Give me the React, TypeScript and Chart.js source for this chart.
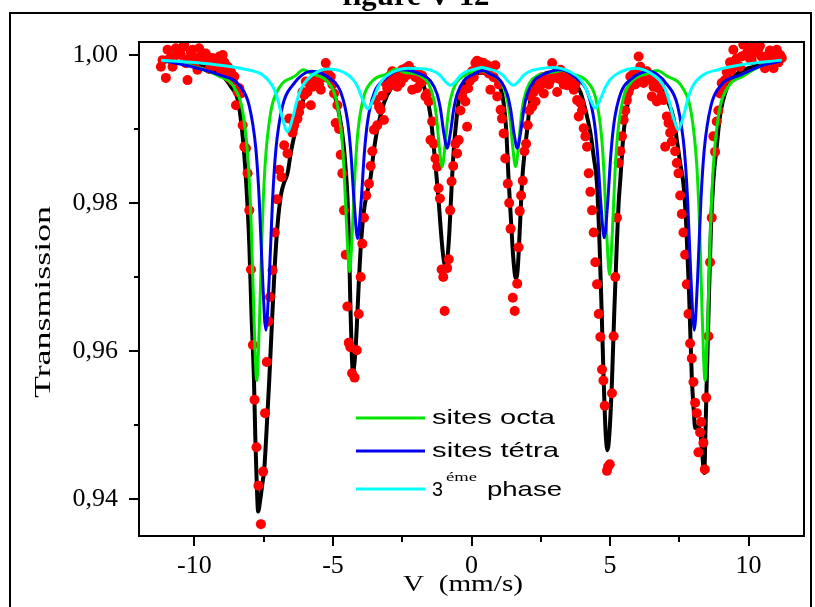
import { useEffect, useRef } from 'react';
import { Chart, registerables } from 'chart.js';

Chart.register(...registerables);

// ---- axis ticks ----
const xTickValues = [-10, -7.5, -5, -2.5, 0, 2.5, 5, 7.5, 10];
const xLabelValues = [-10, -5, 0, 5, 10];
const yTickValues = [0.94, 0.95, 0.96, 0.97, 0.98, 0.99, 1.0];
const yLabelValues = [0.94, 0.96, 0.98, 1.0];

// ---- legend labels ----
const octaLabel = 'sites octa';
const tetraLabel = 'sites tétra';
const phaseLabelNum = '3';
const phaseLabelSup = 'éme';
const phaseLabelRest = 'phase';

// ---- measured spectrum [velocity mm/s, transmission] ----
const measured: [number, number][] = [
  [-11.21, 0.9984], [-11.15, 0.9993], [-11.03, 0.9969], [-10.97, 1.0007], [-10.9, 0.9995], [-10.79, 0.9984],
  [-10.73, 0.9998], [-10.67, 1.0009], [-10.55, 1.0002], [-10.49, 1.0], [-10.43, 1.001], [-10.37, 1.0014],
  [-10.31, 0.9989], [-10.25, 0.9966], [-10.19, 0.9995], [-10.13, 1.0004], [-10.07, 1.0007], [-10.01, 0.999],
  [-9.95, 0.9996], [-9.89, 0.998], [-9.83, 1.0009], [-9.77, 0.9998], [-9.71, 1.0002], [-9.65, 0.9993],
  [-9.59, 1.0002], [-9.53, 0.9995], [-9.47, 0.9981], [-9.41, 0.999], [-9.35, 0.9996], [-9.28, 0.9991],
  [-9.22, 0.9985], [-9.16, 0.9987], [-9.1, 0.9998], [-9.05, 0.998], [-8.98, 1.0], [-8.92, 0.999],
  [-8.86, 0.9978], [-8.8, 0.9984], [-8.74, 0.9969], [-8.68, 0.9977], [-8.62, 0.9965], [-8.56, 0.9971],
  [-8.5, 0.9932], [-8.44, 0.995], [-8.38, 0.9955], [-8.32, 0.9948], [-8.26, 0.9905], [-8.2, 0.9876],
  [-8.14, 0.9874], [-8.08, 0.984], [-8.02, 0.979], [-7.96, 0.971], [-7.89, 0.9608], [-7.83, 0.9534],
  [-7.76, 0.947], [-7.69, 0.9418], [-7.6, 0.9366], [-7.52, 0.9437], [-7.45, 0.9516], [-7.39, 0.9585],
  [-7.33, 0.964], [-7.27, 0.9673], [-7.18, 0.9709], [-7.1, 0.976], [-7.02, 0.9805], [-6.94, 0.9845],
  [-6.86, 0.9835], [-6.76, 0.9878], [-6.64, 0.9867], [-6.58, 0.9914], [-6.46, 0.9895], [-6.4, 0.9905],
  [-6.28, 0.9914], [-6.22, 0.9923], [-6.16, 0.9932], [-6.1, 0.995], [-6.04, 0.9946], [-5.98, 0.9964],
  [-5.92, 0.995], [-5.86, 0.9962], [-5.8, 0.9932], [-5.74, 0.9957], [-5.68, 0.9968], [-5.62, 0.9959],
  [-5.56, 0.997], [-5.5, 0.996], [-5.44, 0.9953], [-5.38, 0.9975], [-5.32, 0.997], [-5.26, 0.9989],
  [-5.2, 0.9977], [-5.14, 0.9968], [-5.08, 0.9971], [-5.02, 0.996], [-4.96, 0.9948], [-4.9, 0.9908],
  [-4.84, 0.9932], [-4.78, 0.99], [-4.72, 0.9865], [-4.66, 0.984], [-4.6, 0.979], [-4.54, 0.973],
  [-4.48, 0.966], [-4.43, 0.9611], [-4.37, 0.9605], [-4.31, 0.957], [-4.22, 0.9564], [-4.14, 0.9601],
  [-4.07, 0.965], [-4.0, 0.97], [-3.94, 0.9745], [-3.88, 0.978], [-3.8, 0.981], [-3.7, 0.9826],
  [-3.64, 0.985], [-3.58, 0.987], [-3.52, 0.9899], [-3.46, 0.9939], [-3.4, 0.9905], [-3.34, 0.993],
  [-3.28, 0.9926], [-3.22, 0.9945], [-3.16, 0.9912], [-3.1, 0.9962], [-3.04, 0.9955], [-2.98, 0.9971],
  [-2.92, 0.996], [-2.86, 0.9978], [-2.8, 0.9966], [-2.74, 0.9975], [-2.68, 0.9957], [-2.62, 0.9975],
  [-2.56, 0.9962], [-2.5, 0.998], [-2.44, 0.9969], [-2.38, 0.9982], [-2.32, 0.9973], [-2.26, 0.9985],
  [-2.2, 0.998], [-2.14, 0.9953], [-2.08, 0.9978], [-2.02, 0.997], [-1.96, 0.9955], [-1.9, 0.9975],
  [-1.84, 0.9962], [-1.78, 0.9972], [-1.72, 0.9966], [-1.66, 0.9944], [-1.6, 0.9948], [-1.54, 0.9937],
  [-1.48, 0.9885], [-1.42, 0.991], [-1.36, 0.988], [-1.3, 0.986], [-1.24, 0.9849], [-1.19, 0.982],
  [-1.14, 0.9806], [-1.08, 0.971], [-1.02, 0.97], [-0.97, 0.9654], [-0.88, 0.9712], [-0.82, 0.9724],
  [-0.77, 0.979], [-0.72, 0.9829], [-0.66, 0.985], [-0.58, 0.988], [-0.52, 0.9867], [-0.46, 0.9885],
  [-0.4, 0.9925], [-0.34, 0.9944], [-0.28, 0.9953], [-0.22, 0.9937], [-0.16, 0.9903], [-0.12, 0.9955],
  [-0.06, 0.9965], [0.02, 0.9978], [0.08, 0.997], [0.14, 0.9989], [0.2, 0.9992], [0.26, 0.9984],
  [0.32, 0.999], [0.38, 0.998], [0.44, 0.9989], [0.5, 0.998], [0.57, 0.9986], [0.62, 0.9975],
  [0.68, 0.9953], [0.75, 0.9984], [0.8, 0.997], [0.86, 0.9986], [0.93, 0.9944], [0.99, 0.996],
  [1.05, 0.9926], [1.1, 0.9914], [1.16, 0.9894], [1.22, 0.986], [1.31, 0.9826], [1.36, 0.98],
  [1.41, 0.9765], [1.49, 0.9672], [1.56, 0.9654], [1.65, 0.9691], [1.7, 0.974], [1.74, 0.9789],
  [1.79, 0.981], [1.85, 0.983], [1.91, 0.987], [1.97, 0.988], [2.03, 0.9905], [2.09, 0.9925],
  [2.13, 0.9944], [2.19, 0.993], [2.25, 0.995], [2.31, 0.9937], [2.37, 0.9955], [2.43, 0.9965],
  [2.49, 0.9959], [2.55, 0.997], [2.61, 0.9948], [2.67, 0.9962], [2.73, 0.9972], [2.79, 0.996],
  [2.85, 0.9966], [2.91, 0.9989], [2.97, 0.997], [3.03, 0.9975], [3.09, 0.995], [3.15, 0.9968],
  [3.21, 0.998], [3.27, 0.9966], [3.33, 0.996], [3.39, 0.9972], [3.45, 0.9959], [3.51, 0.997],
  [3.57, 0.9964], [3.63, 0.9958], [3.69, 0.9953], [3.75, 0.996], [3.81, 0.9939], [3.87, 0.9917],
  [3.93, 0.9935], [3.99, 0.9925], [4.05, 0.9901], [4.11, 0.989], [4.17, 0.9876], [4.23, 0.984],
  [4.29, 0.9815], [4.35, 0.979], [4.41, 0.976], [4.47, 0.972], [4.53, 0.969], [4.59, 0.965],
  [4.65, 0.9619], [4.71, 0.9575], [4.76, 0.956], [4.81, 0.9526], [4.89, 0.9438], [4.93, 0.9444],
  [4.99, 0.9447], [5.07, 0.9543], [5.13, 0.962], [5.19, 0.97], [5.25, 0.978], [5.31, 0.9854],
  [5.37, 0.987], [5.43, 0.989], [5.49, 0.9912], [5.55, 0.9925], [5.61, 0.9939], [5.67, 0.995],
  [5.73, 0.9971], [5.79, 0.996], [5.85, 0.9975], [5.91, 0.996], [5.97, 0.997], [6.03, 0.9998],
  [6.09, 0.9984], [6.15, 0.9975], [6.21, 0.9962], [6.27, 0.9972], [6.33, 0.9978], [6.39, 0.9968],
  [6.45, 0.9966], [6.51, 0.9944], [6.57, 0.9957], [6.63, 0.9962], [6.69, 0.9937], [6.75, 0.9955],
  [6.81, 0.996], [6.87, 0.9945], [6.93, 0.9939], [6.99, 0.9876], [7.05, 0.9917], [7.11, 0.9908],
  [7.17, 0.9895], [7.23, 0.9883], [7.29, 0.99], [7.35, 0.987], [7.41, 0.9854], [7.47, 0.984],
  [7.53, 0.981], [7.59, 0.9785], [7.65, 0.976], [7.71, 0.973], [7.77, 0.969], [7.83, 0.965],
  [7.89, 0.961], [7.95, 0.959], [8.01, 0.9558], [8.07, 0.953], [8.13, 0.9516], [8.19, 0.9463],
  [8.25, 0.949], [8.29, 0.9504], [8.37, 0.9476], [8.42, 0.944], [8.47, 0.9537], [8.55, 0.962],
  [8.61, 0.972], [8.67, 0.978], [8.73, 0.989], [8.79, 0.9869], [8.85, 0.991], [8.91, 0.9925],
  [8.97, 0.9948], [9.03, 0.9962], [9.09, 0.9955], [9.15, 0.9966], [9.21, 0.9977], [9.27, 0.997],
  [9.33, 0.999], [9.39, 0.998], [9.45, 1.0007], [9.51, 0.9992], [9.57, 0.9995], [9.63, 0.9985],
  [9.69, 0.9984], [9.75, 0.9998], [9.81, 1.0014], [9.87, 1.0], [9.93, 1.0002], [9.99, 1.0009],
  [10.05, 0.9995], [10.11, 0.9993], [10.17, 1.0014], [10.23, 1.0005], [10.29, 1.0003], [10.35, 1.0008],
  [10.41, 1.0012], [10.47, 0.9998], [10.54, 0.9989], [10.59, 0.9982], [10.65, 0.9995], [10.71, 1.0],
  [10.77, 1.0006], [10.84, 0.9991], [10.9, 0.9982], [10.96, 0.9995], [11.02, 1.0007], [11.08, 0.999],
  [11.14, 1.0], [11.2, 0.9996],
];

// ---- total fit (black) ----
const totalFit: [number, number][] = [
  [-11.2, 0.9992], [-10.5, 0.999], [-10.0, 0.9988], [-9.5, 0.9984], [-9.1, 0.9976], [-8.85, 0.9966],
  [-8.68, 0.9957], [-8.44, 0.994], [-8.3, 0.9905], [-8.2, 0.9865], [-8.12, 0.982], [-8.02, 0.9745],
  [-7.94, 0.965], [-7.85, 0.956], [-7.8, 0.948], [-7.75, 0.942], [-7.7, 0.9383], [-7.62, 0.94],
  [-7.55, 0.942], [-7.48, 0.9440], [-7.4, 0.949], [-7.3, 0.956], [-7.2, 0.964], [-7.1, 0.9715],
  [-7.0, 0.977], [-6.88, 0.981], [-6.76, 0.9828], [-6.64, 0.984], [-6.52, 0.9868], [-6.4, 0.989],
  [-6.28, 0.991], [-6.05, 0.9942], [-5.85, 0.996], [-5.6, 0.9972], [-5.35, 0.9976], [-5.2, 0.9972],
  [-5.05, 0.996], [-4.9, 0.994], [-4.75, 0.9915], [-4.62, 0.988], [-4.54, 0.9845], [-4.48, 0.981],
  [-4.42, 0.9745], [-4.37, 0.966], [-4.32, 0.9595], [-4.28, 0.9572], [-4.22, 0.9585], [-4.15, 0.9625],
  [-4.07, 0.969], [-3.98, 0.975], [-3.88, 0.979], [-3.76, 0.9815], [-3.64, 0.9835], [-3.52, 0.9872],
  [-3.4, 0.9899], [-3.16, 0.9935], [-2.9, 0.9955], [-2.68, 0.9963], [-2.4, 0.9972], [-2.09, 0.9976],
  [-1.84, 0.997], [-1.66, 0.995], [-1.48, 0.9918], [-1.36, 0.9875], [-1.26, 0.9835], [-1.18, 0.98],
  [-1.1, 0.976], [-1.02, 0.9728], [-0.95, 0.9716], [-0.88, 0.9722], [-0.8, 0.976], [-0.72, 0.982],
  [-0.64, 0.9872], [-0.55, 0.991], [-0.46, 0.9938], [-0.3, 0.9958], [-0.16, 0.9966], [0.05, 0.9973],
  [0.3, 0.9976], [0.55, 0.9975], [0.8, 0.9968], [1.05, 0.9955], [1.16, 0.9935], [1.25, 0.99],
  [1.34, 0.9831], [1.42, 0.978], [1.5, 0.973], [1.57, 0.9702], [1.61, 0.9698], [1.67, 0.9712],
  [1.75, 0.977], [1.83, 0.9831], [1.92, 0.987], [2.01, 0.9899], [2.13, 0.994], [2.37, 0.9964],
  [2.7, 0.9974], [3.0, 0.9976], [3.3, 0.9975], [3.6, 0.9966], [3.93, 0.995], [4.15, 0.992],
  [4.29, 0.9895], [4.42, 0.986], [4.53, 0.9825], [4.62, 0.9745], [4.7, 0.965], [4.77, 0.9561],
  [4.84, 0.949], [4.91, 0.9466], [4.98, 0.949], [5.07, 0.956], [5.15, 0.965], [5.24, 0.974],
  [5.31, 0.98], [5.37, 0.9831], [5.49, 0.9895], [5.67, 0.994], [5.97, 0.9964], [6.3, 0.9972],
  [6.57, 0.9972], [6.8, 0.996], [7.05, 0.994], [7.29, 0.9915], [7.41, 0.9885], [7.53, 0.9854],
  [7.65, 0.9825], [7.75, 0.977], [7.85, 0.968], [7.95, 0.9565], [8.03, 0.9515], [8.07, 0.9496],
  [8.15, 0.9498], [8.25, 0.9493], [8.33, 0.946], [8.4, 0.9435], [8.45, 0.95], [8.49, 0.956],
  [8.56, 0.966], [8.64, 0.9765], [8.73, 0.9831], [8.85, 0.9876], [8.97, 0.9918], [9.21, 0.9955],
  [9.57, 0.9974], [10.17, 0.9984], [10.7, 0.9989], [11.2, 0.9992],
];

// ---- octahedral sites (green) ----
const octaFit: [number, number][] = [
  [-11.2, 0.9993], [-10.2, 0.9986], [-9.15, 0.9972], [-8.55, 0.9955], [-8.25, 0.9922], [-8.05, 0.9851],
  [-7.95, 0.977], [-7.85, 0.9644], [-7.75, 0.956], [-7.65, 0.9644], [-7.55, 0.977], [-7.45, 0.9851],
  [-7.25, 0.9922], [-6.95, 0.9955], [-6.35, 0.9972], [-6.07, 0.998], [-5.8, 0.9975], [-5.2, 0.9964],
  [-4.9, 0.9942], [-4.7, 0.9896], [-4.6, 0.9844], [-4.5, 0.9762], [-4.4, 0.9707], [-4.3, 0.9762],
  [-4.2, 0.9844], [-4.1, 0.9896], [-3.9, 0.9942], [-3.6, 0.9964], [-3.0, 0.9975], [-2.73, 0.9981],
  [-2.46, 0.9977], [-1.86, 0.9972], [-1.56, 0.9962], [-1.36, 0.994], [-1.26, 0.9915], [-1.16, 0.9875],
  [-1.06, 0.9849], [-0.96, 0.9875], [-0.86, 0.9915], [-0.76, 0.994], [-0.56, 0.9962], [-0.26, 0.9972],
  [0.27, 0.9979], [0.79, 0.9972], [1.09, 0.9962], [1.29, 0.994], [1.39, 0.9915], [1.49, 0.9875],
  [1.59, 0.9849], [1.69, 0.9875], [1.79, 0.9915], [1.89, 0.994], [2.09, 0.9962], [2.39, 0.9972],
  [2.99, 0.9977], [3.28, 0.9979], [3.58, 0.9975], [4.18, 0.9964], [4.48, 0.9942], [4.68, 0.9895],
  [4.78, 0.9842], [4.88, 0.9758], [4.98, 0.9703], [5.08, 0.9758], [5.18, 0.9842], [5.28, 0.9895],
  [5.48, 0.9942], [5.78, 0.9964], [6.38, 0.9975], [6.7, 0.9979], [7.03, 0.9972], [7.63, 0.9955],
  [7.93, 0.9922], [8.13, 0.9851], [8.23, 0.977], [8.33, 0.9644], [8.43, 0.956], [8.53, 0.9644],
  [8.63, 0.977], [8.73, 0.9851], [8.93, 0.9922], [9.23, 0.9955], [9.83, 0.9972], [10.5, 0.9986],
  [11.2, 0.9992],
];

// ---- tetrahedral sites (blue) ----
const tetraFit: [number, number][] = [
  [-11.2, 0.9993], [-10.2, 0.9985], [-9.1, 0.9973], [-8.38, 0.9959], [-8.02, 0.9931], [-7.78, 0.9872],
  [-7.66, 0.9804], [-7.54, 0.9698], [-7.42, 0.9628], [-7.3, 0.9698], [-7.18, 0.9804], [-7.06, 0.9872],
  [-6.82, 0.9931], [-6.46, 0.9959], [-5.77, 0.9978], [-5.07, 0.9967], [-4.71, 0.9949], [-4.47, 0.991],
  [-4.35, 0.9866], [-4.23, 0.9798], [-4.11, 0.9752], [-3.99, 0.9798], [-3.87, 0.9866], [-3.75, 0.991],
  [-3.51, 0.9949], [-3.15, 0.9967], [-2.5, 0.998], [-1.84, 0.9974], [-1.48, 0.9965], [-1.24, 0.9947],
  [-1.12, 0.9927], [-1.0, 0.9895], [-0.88, 0.9874], [-0.76, 0.9895], [-0.64, 0.9927], [-0.52, 0.9947],
  [-0.28, 0.9965], [0.08, 0.9974], [0.385, 0.9979], [0.69, 0.9974], [1.05, 0.9965], [1.29, 0.9947],
  [1.41, 0.9927], [1.53, 0.9895], [1.65, 0.9874], [1.77, 0.9895], [1.89, 0.9927], [2.01, 0.9947],
  [2.25, 0.9965], [2.61, 0.9974], [3.2, 0.998], [3.83, 0.9967], [4.19, 0.9949], [4.43, 0.991],
  [4.55, 0.9866], [4.67, 0.9798], [4.79, 0.9753], [4.91, 0.9798], [5.03, 0.9866], [5.15, 0.991],
  [5.39, 0.9949], [5.75, 0.9967], [6.4, 0.9978], [7.08, 0.9959], [7.44, 0.9931], [7.68, 0.9872],
  [7.8, 0.9804], [7.92, 0.9698], [8.04, 0.9628], [8.16, 0.9698], [8.28, 0.9804], [8.4, 0.9872],
  [8.64, 0.9931], [9.0, 0.9959], [9.72, 0.9973], [10.5, 0.9986], [11.2, 0.9992],
];

// ---- third phase (cyan) ----
const phase3Fit: [number, number][] = [
  [-11.2, 0.9993], [-9.5, 0.9988], [-8.08, 0.998], [-7.54, 0.9973], [-7.18, 0.9958], [-7.0, 0.9941],
  [-6.82, 0.9914], [-6.64, 0.9896], [-6.46, 0.9914], [-6.28, 0.9941], [-6.1, 0.9958], [-5.74, 0.9973],
  [-5.19, 0.9981], [-4.64, 0.9977], [-4.28, 0.9967], [-4.1, 0.9956], [-3.92, 0.9939], [-3.74, 0.9927],
  [-3.56, 0.9939], [-3.38, 0.9956], [-3.2, 0.9967], [-2.84, 0.9977], [-2.3, 0.9982], [-1.66, 0.9981],
  [-1.3, 0.9977], [-1.12, 0.9972], [-0.94, 0.9964], [-0.76, 0.9959], [-0.58, 0.9964], [-0.4, 0.9972],
  [-0.22, 0.9977], [0.14, 0.9981], [0.375, 0.9983], [0.61, 0.9981], [0.97, 0.9977], [1.15, 0.9972],
  [1.33, 0.9964], [1.51, 0.9959], [1.69, 0.9964], [1.87, 0.9972], [2.05, 0.9977], [2.41, 0.9981],
  [2.95, 0.9983], [3.57, 0.9977], [3.93, 0.9967], [4.11, 0.9956], [4.29, 0.994], [4.47, 0.9928],
  [4.65, 0.994], [4.83, 0.9956], [5.01, 0.9967], [5.37, 0.9977], [5.91, 0.9982], [6.56, 0.9973],
  [6.92, 0.9959], [7.1, 0.9942], [7.28, 0.9916], [7.46, 0.9899], [7.64, 0.9916], [7.82, 0.9942],
  [8.0, 0.9959], [8.36, 0.9973], [8.9, 0.998], [9.8, 0.9987], [11.2, 0.9993],
];

const SERIF = "'Liberation Serif', 'Times New Roman', serif";
const SANS = "'Liberation Sans', Arial, sans-serif";
const GREEN = '#00e600';
const BLUE = '#0000ee';
const CYAN = '#00ffff';

function drawStretched(ctx: CanvasRenderingContext2D, text: string, x: number, y: number, font: string, width: number, align: 'left' | 'center') {
  ctx.save();
  ctx.font = font;
  const w = ctx.measureText(text).width;
  const sx = width / w;
  ctx.translate(x, y);
  ctx.scale(sx, 1);
  ctx.textAlign = 'left';
  ctx.textBaseline = 'alphabetic';
  ctx.fillText(text, align === 'center' ? -w / 2 : 0, 0);
  ctx.restore();
}

const decorPlugin = {
  id: 'decor',
  afterDraw(chart: any) {
    const { ctx, chartArea: a, scales } = chart;
    const xs = scales.x;
    const ys = scales.y;
    ctx.save();
    ctx.strokeStyle = '#000';
    ctx.fillStyle = '#000';
    ctx.lineWidth = 2;
    // plot frame
    ctx.strokeRect(a.left, a.top, a.right - a.left, a.bottom - a.top);
    // tick marks
    ctx.beginPath();
    for (const v of xTickValues) {
      const px = Math.round(xs.getPixelForValue(v));
      const len = xLabelValues.includes(v) ? 10 : 6;
      ctx.moveTo(px, a.bottom);
      ctx.lineTo(px, a.bottom + len);
    }
    for (const v of yTickValues) {
      const py = Math.round(ys.getPixelForValue(v));
      const len = yLabelValues.some((l) => Math.abs(l - v) < 1e-9) ? 10 : 5;
      ctx.moveTo(a.left, py);
      ctx.lineTo(a.left - len, py);
    }
    ctx.stroke();

    // outer frame
    ctx.beginPath();
    ctx.moveTo(10, 607);
    ctx.lineTo(10, 13);
    ctx.lineTo(811, 13);
    ctx.lineTo(811, 607);
    ctx.stroke();

    // clipped title
    drawStretched(ctx, 'figure V-12', 416, 5, `bold 30px ${SERIF}`, 147, 'center');

    // axis titles
    drawStretched(ctx, 'V  (mm/s)', 463, 591, `23px ${SERIF}`, 120, 'center');
    ctx.save();
    ctx.translate(50, 302);
    ctx.rotate(-Math.PI / 2);
    drawStretched(ctx, 'Transmission', 0, 0, `23px ${SERIF}`, 192, 'center');
    ctx.restore();

    // legend
    const legendRows: [string, number][] = [[GREEN, 418], [BLUE, 451], [CYAN, 489]];
    ctx.lineWidth = 3;
    for (const [c, y] of legendRows) {
      ctx.strokeStyle = c;
      ctx.beginPath();
      ctx.moveTo(356, y);
      ctx.lineTo(425, y);
      ctx.stroke();
    }
    ctx.fillStyle = '#000';
    drawStretched(ctx, octaLabel, 432, 424, `21px ${SANS}`, 123, 'left');
    drawStretched(ctx, tetraLabel, 432, 457, `21px ${SANS}`, 127, 'left');
    drawStretched(ctx, phaseLabelNum, 432, 496, `21px ${SANS}`, 11, 'left');
    drawStretched(ctx, phaseLabelSup, 446, 481, `13px ${SERIF}`, 31, 'left');
    drawStretched(ctx, phaseLabelRest, 487, 496, `21px ${SANS}`, 75, 'left');
    ctx.restore();
  },
};

const toXY = (arr: [number, number][]) => arr.map(([x, y]) => ({ x, y }));

export default function App() {
  const ref = useRef<HTMLCanvasElement | null>(null);
  useEffect(() => {
    const canvas = ref.current;
    if (!canvas) return;
    const lineDs = (label: string, arr: [number, number][], color: string, width: number, order: number) => ({
      label,
      data: toXY(arr),
      showLine: true,
      borderColor: color,
      backgroundColor: color,
      borderWidth: width,
      pointRadius: 0,
      cubicInterpolationMode: 'monotone',
      order,
    });
    const chart = new Chart(canvas, {
      type: 'scatter',
      data: {
        datasets: [
          lineDs('3éme phase', phase3Fit, CYAN, 3, 1),
          lineDs('sites tétra', tetraFit, BLUE, 3, 2),
          lineDs('sites octa', octaFit, GREEN, 3, 3),
          {
            label: 'mesure',
            data: toXY(measured),
            pointRadius: 5,
            pointBackgroundColor: '#ff0000',
            pointBorderWidth: 0,
            borderWidth: 0,
            order: 4,
          },
          lineDs('ajustement', totalFit, '#000000', 4, 5),
        ] as any,
      },
      options: {
        animation: false,
        responsive: false,
        layout: { padding: { left: 10, top: 42, right: 11, bottom: 11 } },
        plugins: { legend: { display: false }, tooltip: { enabled: false }, title: { display: false } },
        scales: {
          x: {
            type: 'linear',
            min: -12,
            max: 12,
            afterFit: (s: any) => { s.height = 60; },
            afterBuildTicks: (s: any) => { s.ticks = xTickValues.map((v) => ({ value: v })); },
            grid: { display: false, drawTicks: true, tickLength: 10 },
            border: { display: false },
            ticks: {
              autoSkip: false,
              maxRotation: 0,
              padding: 5,
              color: '#000',
              font: { family: SERIF, size: 26 },
              callback: (v: any) => (xLabelValues.includes(v) ? String(v) : ''),
            },
          },
          y: {
            type: 'linear',
            min: 0.935,
            max: 1.00175,
            afterFit: (s: any) => { s.width = 129; },
            afterBuildTicks: (s: any) => { s.ticks = yTickValues.map((v) => ({ value: v })); },
            grid: { display: false, drawTicks: true, tickLength: 10 },
            border: { display: false },
            ticks: {
              autoSkip: false,
              padding: 11,
              color: '#000',
              font: { family: SERIF, size: 26 },
              callback: (v: any) =>
                yLabelValues.some((l) => Math.abs(l - v) < 1e-9) ? Number(v).toFixed(2).replace('.', ',') : '',
            },
          },
        },
      } as any,
      plugins: [decorPlugin],
    });
    return () => chart.destroy();
  }, []);
  return (
    <canvas
      ref={ref}
      width={815}
      height={607}
      style={{ position: 'fixed', left: 0, top: 0, width: 815, height: 607, background: '#fff' }}
    />
  );
}
